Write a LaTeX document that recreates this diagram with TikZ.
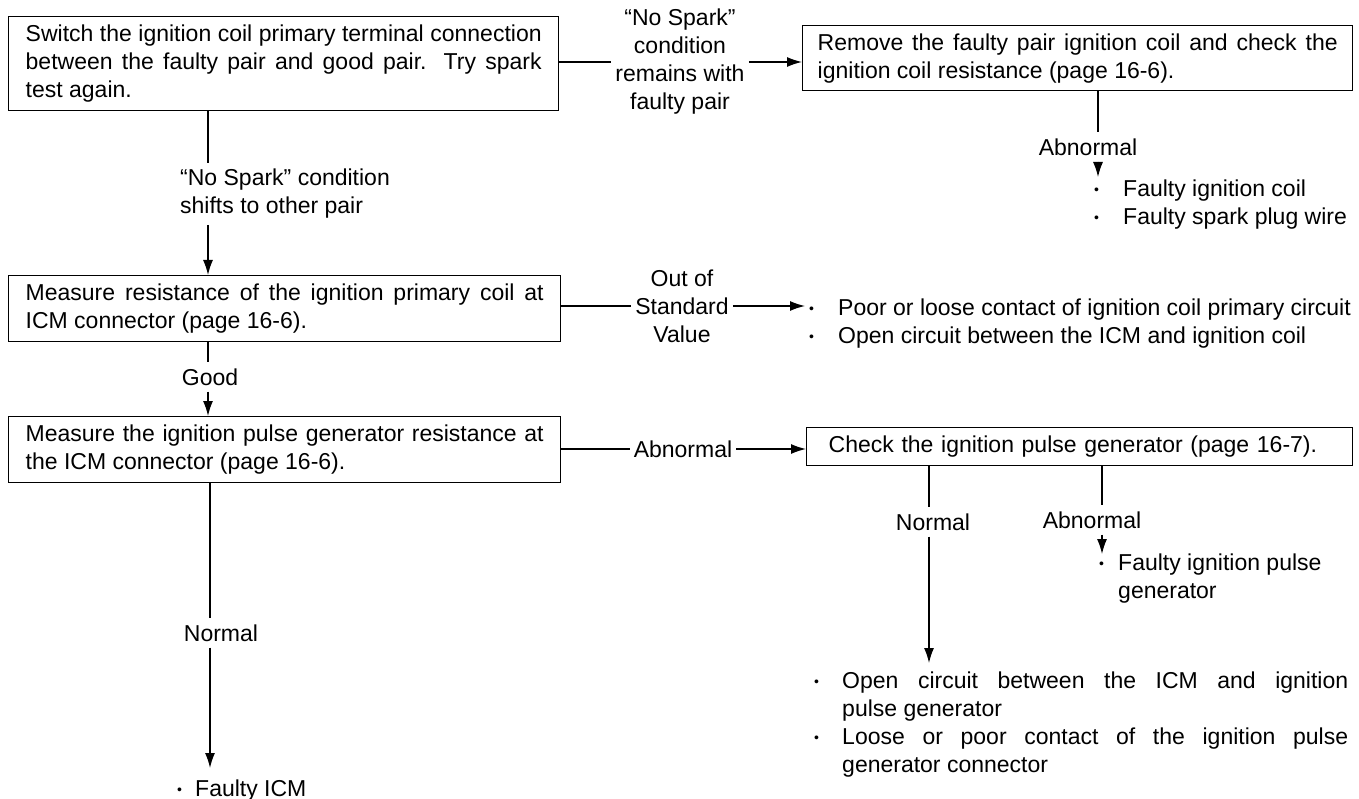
\documentclass[tikz,border=0pt]{standalone}
\usepackage{fontspec}
\setmainfont{Liberation Sans}
\usepackage{tikz}
\usetikzlibrary{positioning}
\usetikzlibrary{arrows.meta}
\tikzset{
    mybox/.style = {rectangle, line width=1.4pt, draw=black, anchor=north west, align=justify, inner xsep=17pt, inner ysep=4pt, text=black},
    mylabel/.style = {align=center, inner xsep=4pt, inner ysep=6pt, text=black},
    mylist/.style = {anchor=north west, inner sep=0pt, align=left, text=black},
    edgen/.style = {-, line width=1.3pt, black},
    edgea/.style = {-{Latex[length=15pt,width=10pt]}, line width=1.3pt, black}, % into next step
}
\newcommand{\dotitem}[1]{\makebox[#1][l]{\raisebox{2.5pt}{\fontsize{14}{14}\selectfont •}}}

\begin{document}
\begin{tikzpicture}[x=1pt, y=-1pt, font=\fontsize{23}{28}\selectfont]
  \useasboundingbox (0,0) rectangle (1359,799);
  % x of the vertical runs
  \coordinate (xa) at (208,0);
  \coordinate (xb) at (210,0);
  \coordinate (xc) at (1098,0);
  \coordinate (xd) at (929,0);
  \coordinate (xe) at (1102,0);

  % steps
  \node[mybox, text width=516pt, minimum height=94pt] (sw) at (8,16) {Switch the ignition coil primary terminal connection\linebreak between the faulty pair and good pair. Try spark\linebreak test again.};
  \node[mybox, text width=520pt, inner xsep=15pt, minimum height=65pt] (rm) at (802,25) {Remove the faulty pair ignition coil and check the\linebreak ignition coil resistance (page 16-6).};
  \node[mybox, text width=518pt, minimum height=66pt] (mr) at (8,275) {Measure resistance of the ignition primary coil at\linebreak ICM connector (page 16-6).};
  \node[mybox, text width=518pt, minimum height=66pt] (mp) at (8,416) {Measure the ignition pulse generator resistance at\linebreak the ICM connector (page 16-6).};
  \node[mybox, text width=502pt, inner xsep=22pt, minimum height=38pt, align=left] (ck) at (806,427) {Check the ignition pulse generator (page 16-7).};

  % conditions
  \node[mylabel] (nsr) at (680,62) {“No Spark”\\condition\\remains with\\faulty pair};
  \node[mylabel, align=left, anchor=west] (nss) at (176,194) {“No Spark” condition\\shifts to other pair};
  \node[mylabel] (osv) at (682,306) {Out of\\Standard\\Value};
  \node[mylabel] (good) at (210,377) {Good};
  \node[mylabel] (abm) at (683,449) {Abnormal};
  \node[mylabel] (nlo) at (221,633) {Normal};
  \node[mylabel] (abr) at (1088,147) {Abnormal};
  \node[mylabel] (nck) at (933,522) {Normal};
  \node[mylabel] (ack) at (1092,520) {Abnormal};

  % causes
  \node[mylist] (coil) at (1094,180) {\dotitem{29pt}Faulty ignition coil\\\dotitem{29pt}Faulty spark plug wire};
  \node[mylist] (prim) at (809,299) {\dotitem{29pt}Poor or loose contact of ignition coil primary circuit\\\dotitem{29pt}Open circuit between the ICM and ignition coil};
  \node[mylist] (gen) at (1099,554) {\dotitem{19pt}Faulty ignition pulse\\\hspace*{19pt}generator};
  \node[mylist] (icm) at (177,780) {\dotitem{18pt}Faulty ICM};
  \node[mylist, text width=506pt, align=justify] (open) at (842,672) {\llap{\dotitem{28pt}}Open circuit between the ICM and ignition\linebreak pulse generator\\
    \llap{\dotitem{28pt}}Loose or poor contact of the ignition pulse\linebreak generator connector};

  \draw[edgen] (nsr.west -| sw.east) -- (nsr.west);
  \draw[edgea] (nsr.east) -- (nsr.east -| rm.west);
  \draw[edgen] (xa |- sw.south) -- (xa |- nss.north);
  \draw[edgea] (xa |- nss.south) -- (xa |- mr.north);
  \draw[edgen] (xc |- rm.south) -- (xc |- abr.north);
  \draw[edgea, shorten >=3pt] (xc |- abr.south) -- (xc |- coil.north);
  \draw[edgen] (osv.west -| mr.east) -- (osv.west);
  \draw[edgea, shorten >=4pt] (osv.east) -- (osv.east -| prim.west);
  \draw[edgen] (xa |- mr.south) -- (xa |- good.north);
  \draw[edgea] (xa |- good.south) -- (xa |- mp.north);
  \draw[edgen] (abm.west -| mp.east) -- (abm.west);
  \draw[edgea] (abm.east) -- (abm.east -| ck.west);
  \draw[edgen] (xd |- ck.south) -- (xd |- nck.north);
  \draw[edgea, shorten >=9pt] (xd |- nck.south) -- (xd |- open.north);
  \draw[edgen] (xe |- ck.south) -- (xe |- ack.north);
  \draw[edgea] (xe |- ack.south) -- (xe |- gen.north);
  \draw[edgen] (xb |- mp.south) -- (xb |- nlo.north);
  \draw[edgea, shorten >=12pt] (xb |- nlo.south) -- (xb |- icm.north);
\end{tikzpicture}
\end{document}
